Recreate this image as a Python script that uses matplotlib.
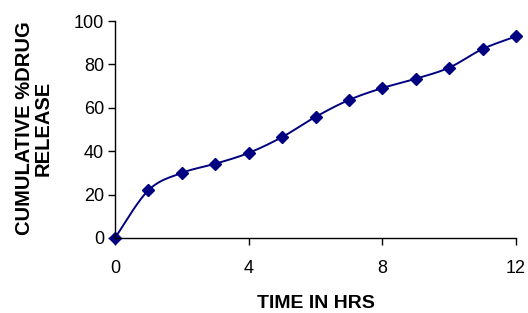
import numpy as np
import matplotlib
matplotlib.use("Agg")
import matplotlib.pyplot as plt

hours = [0, 1, 2, 3, 4, 5, 6, 7, 8, 9, 10, 11, 12]
release = [0, 22.0, 30.0, 34.2, 39.2, 46.5, 55.8, 63.6, 69.1, 73.4, 78.5, 87.1, 92.9]
x_ticks = [0, 4, 8, 12]
y_ticks = [0, 20, 40, 60, 80, 100]

plt.rcParams['font.family'] = ['Liberation Sans', 'DejaVu Sans']

def smooth(xs, ys, n=30):
    xs = np.asarray(xs, float); ys = np.asarray(ys, float)
    P = np.column_stack([xs, ys])
    out = []
    for i in range(len(P) - 1):
        p0 = P[i - 1] if i > 0 else P[i]
        p1 = P[i]; p2 = P[i + 1]
        p3 = P[i + 2] if i + 2 < len(P) else P[i + 1]
        c1 = p1 + (p2 - p0) / 6.0
        c2 = p2 - (p3 - p1) / 6.0
        t = np.linspace(0, 1, n)[:, None]
        seg = (1 - t) ** 3 * p1 + 3 * (1 - t) ** 2 * t * c1 + 3 * (1 - t) * t ** 2 * c2 + t ** 3 * p2
        out.append(seg if i == 0 else seg[1:])
    out = np.vstack(out)
    return out[:, 0], out[:, 1]

W, H = 528, 313
fig = plt.figure(figsize=(W / 100, H / 100), dpi=100)
ax = fig.add_axes([115 / W, 1 - 238 / H, 401 / W, 217 / H])
sx, sy = smooth(hours, release)
ax.plot(sx, sy, color='#000080', lw=1.4, clip_on=False)
ax.plot(hours, release, linestyle='none', marker='D', markersize=6, color='#000080', clip_on=False)

ax.set_xlim(0, 12)
ax.set_ylim(0, 100)
ax.set_xticks(x_ticks)
ax.set_yticks(y_ticks)
for s in ['top', 'right']:
    ax.spines[s].set_visible(False)
for s in ['left', 'bottom']:
    ax.spines[s].set_linewidth(1.0)
ax.tick_params(direction='out', length=5, width=1, labelsize=13)
ax.tick_params(axis='y', pad=3)
ax.tick_params(axis='x', pad=11)

fig.text(315.5 / W, 1 - 304 / H, 'TIME IN HRS', fontsize=14, fontweight='bold',
         ha='center', va='center')
fig.text(34 / W, 1 - 128 / H, 'CUMULATIVE %DRUG\nRELEASE', fontsize=14.5, fontweight='bold',
         ha='center', va='center', rotation=90, multialignment='center', linespacing=1.0)

fig.savefig('out.png', dpi=100)
